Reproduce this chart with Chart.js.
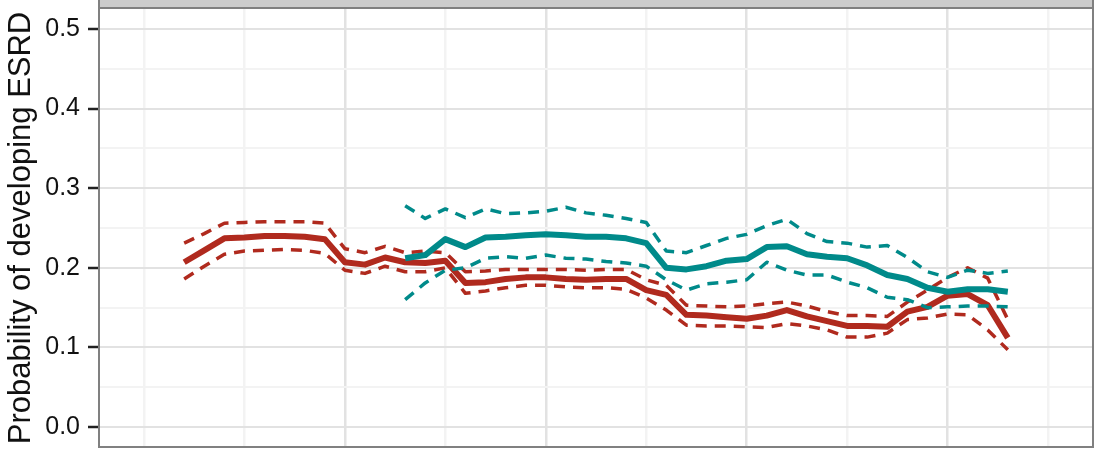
<!DOCTYPE html>
<html>
<head>
<meta charset="utf-8">
<script src="https://cdn.jsdelivr.net/npm/chart.js@4"></script>
<style>
  html, body { margin: 0; padding: 0; background: #fff; }
  #wrap { width: 1100px; height: 450px; }
</style>
</head>
<body>
<div id="wrap"><canvas id="chart" width="1100" height="450"></canvas></div>
<script>
// time steps (x), the x tick labels are cropped off in the source picture
const steps = [2, 3, 4, 5, 6, 7, 8, 9, 10, 11, 12, 13, 14, 15, 16, 17, 18, 19, 20, 21, 22,
  23, 24, 25, 26, 27, 28, 29, 30, 31, 32, 33, 34, 35, 36, 37, 38, 39, 40, 41, 42, 43];
const tealSteps = steps.slice(11); // teal group starts at step 13

// red group: estimate and band
const redMid = [0.207, 0.222, 0.237, 0.238, 0.240, 0.240, 0.239, 0.236, 0.207, 0.204, 0.213,
  0.207, 0.206, 0.209, 0.181, 0.182, 0.186, 0.188, 0.188, 0.186, 0.185, 0.186, 0.186, 0.172,
  0.166, 0.141, 0.140, 0.138, 0.136, 0.140, 0.147, 0.139, 0.133, 0.127, 0.127, 0.126, 0.145,
  0.151, 0.165, 0.167, 0.153, 0.112];
const redUpper = [0.231, 0.243, 0.256, 0.257, 0.258, 0.258, 0.258, 0.256, 0.224, 0.219, 0.227,
  0.219, 0.221, 0.219, 0.195, 0.196, 0.198, 0.198, 0.198, 0.198, 0.197, 0.198, 0.198, 0.185,
  0.178, 0.153, 0.152, 0.151, 0.152, 0.155, 0.157, 0.152, 0.145, 0.140, 0.140, 0.139, 0.157,
  0.172, 0.188, 0.200, 0.187, 0.135];
const redLower = [0.186, 0.202, 0.217, 0.221, 0.222, 0.223, 0.222, 0.218, 0.197, 0.193, 0.202,
  0.195, 0.195, 0.200, 0.168, 0.171, 0.175, 0.178, 0.178, 0.176, 0.175, 0.175, 0.173, 0.162,
  0.147, 0.128, 0.127, 0.127, 0.126, 0.125, 0.130, 0.127, 0.122, 0.113, 0.113, 0.118, 0.135,
  0.137, 0.142, 0.141, 0.122, 0.097];

// teal group: estimate and band
const tealMid = [0.212, 0.216, 0.236, 0.226, 0.238, 0.239, 0.241, 0.242, 0.241, 0.239, 0.239,
  0.237, 0.231, 0.200, 0.198, 0.202, 0.209, 0.211, 0.226, 0.227, 0.217, 0.214, 0.212, 0.203,
  0.191, 0.186, 0.175, 0.170, 0.173, 0.173, 0.170];
const tealUpper = [0.278, 0.262, 0.274, 0.263, 0.274, 0.268, 0.269, 0.271, 0.276, 0.269, 0.266,
  0.262, 0.257, 0.221, 0.219, 0.228, 0.237, 0.242, 0.253, 0.261, 0.243, 0.233, 0.231, 0.226,
  0.228, 0.213, 0.195, 0.188, 0.197, 0.193, 0.196];
const tealLower = [0.160, 0.181, 0.197, 0.200, 0.212, 0.214, 0.212, 0.216, 0.212, 0.211, 0.208,
  0.206, 0.202, 0.185, 0.172, 0.180, 0.182, 0.185, 0.207, 0.197, 0.191, 0.191, 0.182, 0.175,
  0.163, 0.160, 0.150, 0.151, 0.152, 0.152, 0.151];

// axis breaks
const yMajor = [0, 0.1, 0.2, 0.3, 0.4, 0.5];
const yMinor = [0.05, 0.15, 0.25, 0.35, 0.45];
const xMajor = [10, 20, 30, 40];
const xMinor = [0, 5, 15, 25, 35, 45];

const yTitle = 'Probability of developing ESRD';

const RED = '#B02A1E';
const TEAL = '#008A8A';
const GRID_MAJOR = '#E2E2E2';
const GRID_MINOR = '#F3F3F3';
const FONT = "'Liberation Sans', Arial, Helvetica, sans-serif";

const toPoints = (xs, ys) => xs.map((x, i) => ({ x, y: ys[i] }));

const solid = (label, xs, ys, color) => ({
  label,
  data: toPoints(xs, ys),
  borderColor: color,
  borderWidth: 6,
  borderJoinStyle: 'round',
  pointRadius: 0,
  tension: 0,
});

const dashed = (label, xs, ys, color) => ({
  label,
  data: toPoints(xs, ys),
  borderColor: color,
  borderWidth: 3.5,
  borderDash: [11, 8],
  borderCapStyle: 'butt',
  borderJoinStyle: 'round',
  pointRadius: 0,
  tension: 0,
});

const isMajor = (list, v) => list.some((m) => Math.abs(m - v) < 1e-9);

// ggplot-like strip on top and grey panel border
const panelFrame = {
  id: 'panelFrame',
  beforeDraw(chart) {
    const { ctx, chartArea: a } = chart;
    ctx.save();
    ctx.fillStyle = '#CCCCCC';
    ctx.fillRect(a.left, 0, a.right - a.left, a.top);
    ctx.restore();
  },
  afterDraw(chart) {
    const { ctx, chartArea: a } = chart;
    ctx.save();
    ctx.strokeStyle = '#808080';
    ctx.lineWidth = 2;
    ctx.strokeRect(a.left, a.top - 1, a.right - a.left, a.bottom - a.top + 1);
    ctx.beginPath();
    ctx.moveTo(a.left, 0);
    ctx.lineTo(a.left, a.top);
    ctx.moveTo(a.right, 0);
    ctx.lineTo(a.right, a.top);
    ctx.stroke();
    ctx.restore();
  },
};

new Chart(document.getElementById('chart').getContext('2d'), {
  type: 'line',
  data: {
    datasets: [
      solid('teal', tealSteps, tealMid, TEAL),
      dashed('teal upper', tealSteps, tealUpper, TEAL),
      dashed('teal lower', tealSteps, tealLower, TEAL),
      solid('red', steps, redMid, RED),
      dashed('red upper', steps, redUpper, RED),
      dashed('red lower', steps, redLower, RED),
    ],
  },
  options: {
    responsive: false,
    devicePixelRatio: 1,
    animation: false,
    layout: { padding: { top: 9, right: 7, left: 0, bottom: 0 } },
    plugins: {
      legend: { display: false },
      tooltip: { enabled: false },
    },
    scales: {
      x: {
        type: 'linear',
        min: -2.24,
        max: 47.24,
        afterBuildTicks: (scale) => {
          scale.ticks = [...xMinor, ...xMajor].sort((a, b) => a - b).map((value) => ({ value }));
        },
        afterFit: (scale) => {
          scale.height = 3;
          scale.paddingLeft = 0;
          scale.paddingRight = 0;
        },
        ticks: { display: false },
        border: { display: false },
        grid: {
          drawTicks: false,
          tickLength: 0,
          lineWidth: 2.5,
          color: (ctx) => (ctx.tick && isMajor(xMajor, ctx.tick.value) ? GRID_MAJOR : GRID_MINOR),
        },
      },
      y: {
        type: 'linear',
        min: -0.025,
        max: 0.525,
        afterBuildTicks: (scale) => {
          scale.ticks = [...yMinor, ...yMajor].sort((a, b) => a - b).map((value) => ({ value }));
        },
        afterFit: (scale) => {
          scale.width = 99;
          // labels sit well inside the panel, no extra room needed above/below
          scale.paddingTop = 0;
          scale.paddingBottom = 0;
        },
        border: { display: false },
        title: {
          display: true,
          text: yTitle,
          color: '#111',
          font: { family: FONT, size: 31 },
          padding: { top: 3, bottom: 0 },
        },
        ticks: {
          autoSkip: false,
          padding: 8,
          color: '#111',
          font: { family: FONT, size: 25 },
          callback: (value) => (isMajor(yMajor, value) ? value.toFixed(1) : ''),
        },
        grid: {
          tickLength: 11,
          tickWidth: 2.5,
          lineWidth: 2,
          tickColor: (ctx) => (ctx.tick && isMajor(yMajor, ctx.tick.value) ? '#222' : 'rgba(0,0,0,0)'),
          color: (ctx) => (ctx.tick && isMajor(yMajor, ctx.tick.value) ? GRID_MAJOR : GRID_MINOR),
        },
      },
    },
  },
  plugins: [panelFrame],
});
</script>
</body>
</html>
